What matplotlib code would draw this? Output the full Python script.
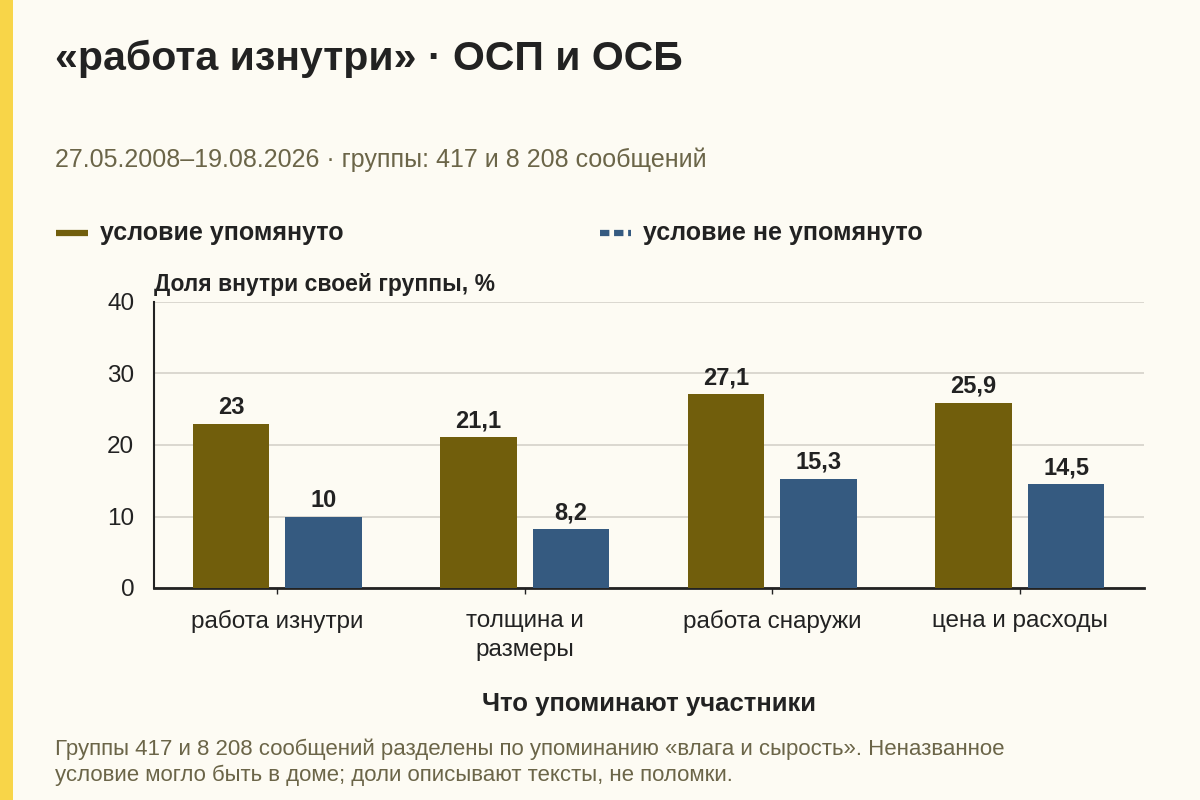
import matplotlib.pyplot as plt
import numpy as np
from matplotlib.lines import Line2D
from matplotlib.patches import Rectangle

plt.rcParams['font.family'] = ['Liberation Sans', 'DejaVu Sans']

categories = ["работа изнутри", "толщина и\nразмеры", "работа снаружи", "цена и расходы"]
mentioned = [23, 21.1, 27.1, 25.9]
not_mentioned = [10, 8.2, 15.3, 14.5]
series_names = ["условие упомянуто", "условие не упомянуто"]

bg = "#FDFBF3"
olive = "#715E0C"
blue = "#355A80"
dark = "#222222"
muted = "#6B6548"

fig = plt.figure(figsize=(12, 8), dpi=100, facecolor=bg)
fig.patches.append(Rectangle((0, 0), 0.0108, 1, transform=fig.transFigure,
                             facecolor="#F8D548", edgecolor="none"))

ax = fig.add_axes([0.128, 0.265, 0.825, 0.3575])
ax.set_facecolor(bg)

x = np.arange(len(categories))
w = 0.31
off = 0.187
b1 = ax.bar(x - off, mentioned, w, color=olive, zorder=3)
b2 = ax.bar(x + off, not_mentioned, w, color=blue, zorder=3)

def fmt(v):
    return ("%g" % v).replace(".", ",")

for bars, vals in ((b1, mentioned), (b2, not_mentioned)):
    for r, v in zip(bars, vals):
        ax.annotate(fmt(v), (r.get_x() + r.get_width() / 2, v),
                    xytext=(0, 3.5), textcoords="offset points",
                    ha="center", va="bottom", fontsize=17,
                    fontweight="bold", color=dark)

ax.set_xlim(-0.5, 3.5)
ax.set_ylim(0, 40)
ax.set_yticks([0, 10, 20, 30, 40])
ax.set_xticks(x)
ax.set_xticklabels(categories, fontsize=17.5, color=dark, linespacing=1.4)
ax.tick_params(axis="y", length=0, labelsize=17.5, labelcolor=dark, pad=14)
ax.tick_params(axis="x", length=4, width=1, color=dark, pad=12)
ax.grid(axis="y", color="#D5D2CA", linewidth=1.2, zorder=0)
for s in ("top", "right"):
    ax.spines[s].set_visible(False)
ax.spines["left"].set_color(dark)
ax.spines["left"].set_linewidth(1.5)
ax.spines["bottom"].set_color(dark)
ax.spines["bottom"].set_linewidth(2)

ax.text(0, 1.02, "Доля внутри своей группы, %", transform=ax.transAxes,
        fontsize=16.5, fontweight="bold", color=dark, ha="left", va="bottom")
ax.set_xlabel("Что упоминают участники", fontsize=18.5, fontweight="bold",
              color=dark, labelpad=22)

fig.text(0.046, 0.927, "«работа изнутри» · ОСП и ОСБ", fontsize=29.5,
         fontweight="bold", color=dark, va="center")
fig.text(0.046, 0.800, "27.05.2008–19.08.2026 · группы: 417 и 8 208 сообщений",
         fontsize=18, color=muted, va="center")

# legend drawn by hand
leg_y = 0.709
leg_items = [(0.047, olive, "-"), (0.500, blue, (0, (1.5, 0.75)))]
for (lx, col, ls), name in zip(leg_items, series_names):
    fig.add_artist(Line2D([lx, lx + 0.026], [leg_y, leg_y], transform=fig.transFigure,
                          color=col, linewidth=4.5, linestyle=ls, solid_capstyle="butt",
                          dash_capstyle="butt"))
    fig.text(lx + 0.036, leg_y, name, fontsize=18, fontweight="bold",
             color=dark, va="center")

fig.text(0.046, 0.047,
         "Группы 417 и 8 208 сообщений разделены по упоминанию «влага и сырость». Неназванное\n"
         "условие могло быть в доме; доли описывают тексты, не поломки.",
         fontsize=16, color=muted, va="center", linespacing=1.3)

fig.savefig("out.png", dpi=100, facecolor=bg)
